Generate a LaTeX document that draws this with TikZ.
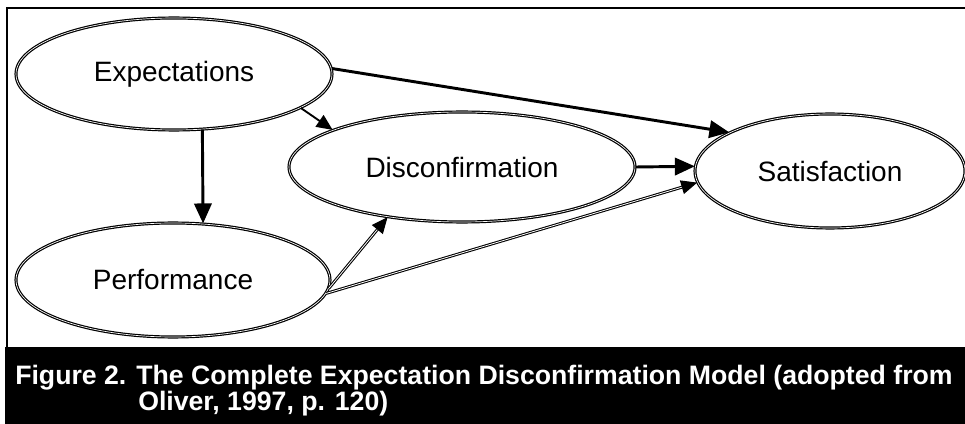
\documentclass[tikz,border=0pt]{standalone}
\usepackage{fontspec}
\setmainfont{Liberation Sans}
\usetikzlibrary{shapes.geometric,arrows.meta}
\tikzset{
  construct/.style={ellipse, draw=black, double=white, line width=0.9pt, double distance=0.5pt,
    inner sep=0pt, font=\fontsize{21}{25}\selectfont},
  thickarrow/.style={line width=2.2pt, -{Triangle[length=15pt,width=13pt]}},
  thinarrow/.style={line width=1.4pt, -{Triangle[length=12pt,width=10.5pt]}},
  dblarrow/.style={draw=black, double=white, line width=0.8pt, double distance=0.6pt,
    -{Triangle[length=12pt,width=10.5pt]}},
  captext/.style={text=white, font=\bfseries\fontsize{20}{24}\selectfont, inner sep=0pt, anchor=base west}
}
\begin{document}
\begin{tikzpicture}[x=0.75pt, y=-0.75pt]
\useasboundingbox (0,0) rectangle (965,424);
% frame
\draw[line width=1.6pt] (7,348) -- (7,8) -- (965,8);
\fill[black] (5,347) rectangle (965,424);
% constructs
\node[construct, minimum width=316*0.75pt, minimum height=112*0.75pt] (exp) at (174,74) {Expectations};
\node[construct, minimum width=346*0.75pt, minimum height=110*0.75pt] (dis) at (462,167) {Disconfirmation};
\node[construct, minimum width=270*0.75pt, minimum height=114*0.75pt] (sat) at (830,171) {Satisfaction};
\node[construct, minimum width=314*0.75pt, minimum height=114*0.75pt] (perf) at (173,280) {Performance};
% connectors
\draw[thickarrow] (exp.2) -- (sat.159);
\draw[thinarrow] (exp.-15) -- (dis.164);
\draw[thickarrow] (exp.-63) -- (perf.62);
\draw[thickarrow] (dis.east) -- (sat.178);
\draw[dblarrow] (perf.-3) -- (dis.214);
\draw[dblarrow] (perf.-5) -- (sat.185);
% caption
\node[captext] (cap1) at (15,384) {Figure 2. The Complete Expectation Disconfirmation Model (adopted from};
\node[captext] (cap2) at (138,411) {Oliver, 1997, p. 120)};
\end{tikzpicture}
\end{document}
